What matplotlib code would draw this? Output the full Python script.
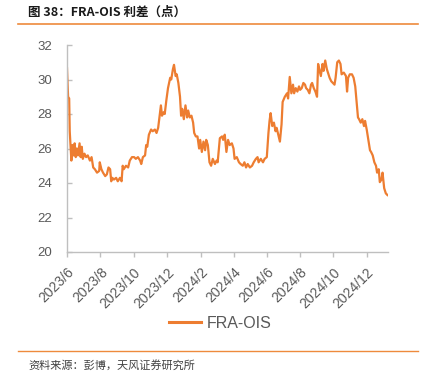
import matplotlib
matplotlib.use("Agg")
import matplotlib.pyplot as plt
from matplotlib.lines import Line2D
import pandas as pd

plt.rcParams['font.family'] = ['Liberation Sans', 'Noto Sans CJK SC', 'DejaVu Sans']

title = "图 38：FRA-OIS 利差（点）"
source = "资料来源：彭博，天风证券研究所"
series_name = "FRA-OIS"

dates = [
    "2023-06-01", "2023-06-03", "2023-06-05", "2023-06-06", "2023-06-09", "2023-06-11", "2023-06-13",
    "2023-06-15", "2023-06-17", "2023-06-19", "2023-06-21", "2023-06-24", "2023-06-26", "2023-06-28",
    "2023-06-30", "2023-07-03", "2023-07-06", "2023-07-09", "2023-07-13", "2023-07-16", "2023-07-19",
    "2023-07-22", "2023-07-26", "2023-07-30", "2023-07-31", "2023-08-03", "2023-08-06", "2023-08-10",
    "2023-08-13", "2023-08-16", "2023-08-19", "2023-08-21", "2023-08-23", "2023-08-26", "2023-08-30",
    "2023-09-02", "2023-09-06", "2023-09-09", "2023-09-11", "2023-09-13", "2023-09-17", "2023-09-21",
    "2023-09-24", "2023-09-28", "2023-10-02", "2023-10-05", "2023-10-09", "2023-10-13", "2023-10-15",
    "2023-10-18", "2023-10-22", "2023-10-24", "2023-10-26", "2023-10-29", "2023-11-02", "2023-11-05",
    "2023-11-09", "2023-11-12", "2023-11-15", "2023-11-18", "2023-11-20", "2023-11-22", "2023-11-25",
    "2023-11-27", "2023-11-30", "2023-12-03", "2023-12-07", "2023-12-09", "2023-12-12", "2023-12-14",
    "2023-12-17", "2023-12-19", "2023-12-22", "2023-12-25", "2023-12-27", "2023-12-29", "2024-01-01",
    "2024-01-04", "2024-01-07", "2024-01-09", "2024-01-12", "2024-01-15", "2024-01-18", "2024-01-20",
    "2024-01-23", "2024-01-26", "2024-01-29", "2024-01-31", "2024-02-03", "2024-02-06", "2024-02-09",
    "2024-02-11", "2024-02-14", "2024-02-17", "2024-02-20", "2024-02-23", "2024-02-27", "2024-03-01",
    "2024-03-03", "2024-03-07", "2024-03-11", "2024-03-13", "2024-03-16", "2024-03-19", "2024-03-22",
    "2024-03-25", "2024-03-29", "2024-04-01", "2024-04-03", "2024-04-07", "2024-04-11", "2024-04-14",
    "2024-04-18", "2024-04-21", "2024-04-24", "2024-04-27", "2024-05-01", "2024-05-05", "2024-05-08",
    "2024-05-12", "2024-05-15", "2024-05-17", "2024-05-21", "2024-05-25", "2024-05-28", "2024-06-01",
    "2024-06-04", "2024-06-06", "2024-06-08", "2024-06-11", "2024-06-14", "2024-06-17", "2024-06-19",
    "2024-06-22", "2024-06-25", "2024-06-28", "2024-06-30", "2024-07-04", "2024-07-08", "2024-07-10",
    "2024-07-13", "2024-07-16", "2024-07-19", "2024-07-21", "2024-07-24", "2024-07-27", "2024-07-30",
    "2024-08-01", "2024-08-04", "2024-08-07", "2024-08-10", "2024-08-12", "2024-08-15", "2024-08-18",
    "2024-08-21", "2024-08-23", "2024-08-26", "2024-08-29", "2024-09-01", "2024-09-03", "2024-09-05",
    "2024-09-08", "2024-09-11", "2024-09-13", "2024-09-16", "2024-09-19", "2024-09-22", "2024-09-24",
    "2024-09-27", "2024-09-30", "2024-10-03", "2024-10-05", "2024-10-08", "2024-10-11", "2024-10-14",
    "2024-10-16", "2024-10-20", "2024-10-24", "2024-10-26", "2024-10-28", "2024-10-31", "2024-11-04",
    "2024-11-07", "2024-11-10", "2024-11-13", "2024-11-15", "2024-11-17", "2024-11-20", "2024-11-23",
    "2024-11-26", "2024-11-28", "2024-12-01", "2024-12-04", "2024-12-07", "2024-12-09", "2024-12-12",
    "2024-12-15", "2024-12-18", "2024-12-20", "2024-12-23", "2024-12-25", "2024-12-28", "2024-12-30",
    "2025-01-02", "2025-01-05", "2025-01-08",
]

values = [
    30.65, 29.0, 28.9, 27.0, 25.3, 26.2, 25.6,
    26.3, 25.5, 26.0, 25.6, 26.3, 25.5, 26.1,
    25.4, 25.7, 25.5, 25.6, 25.3, 25.5, 24.9,
    24.8, 24.6, 24.7, 25.2, 24.8, 24.6, 24.4,
    24.5, 24.9, 24.8, 24.1, 24.3, 24.2, 24.3,
    24.1, 24.3, 24.1, 25.0, 24.8, 25.0, 24.9,
    25.3, 25.5, 25.5, 25.4, 25.5, 25.3, 25.1,
    25.5, 25.6, 26.2, 26.1, 26.8, 27.1, 27.0,
    27.1, 26.9, 27.2, 28.0, 28.5, 27.9, 28.1,
    28.0, 28.8, 29.5, 30.1, 30.0, 30.6, 30.85,
    30.2, 30.3, 29.8, 29.0, 27.9, 28.3, 27.7,
    28.5, 27.8, 28.2, 27.8, 27.9, 27.5, 26.9,
    26.7, 26.7, 26.0, 26.5, 25.8, 26.4, 25.9,
    26.5, 26.2, 25.2, 25.0, 25.4, 25.1, 25.3,
    25.2, 26.6, 26.7, 26.5, 26.8, 25.8, 26.5,
    26.2, 26.3, 26.0, 25.4, 25.5, 25.2, 25.1,
    25.0, 25.2, 24.9, 25.1, 24.9, 25.0, 25.2,
    25.4, 25.5, 25.2, 25.4, 25.2, 25.4, 25.5,
    26.9, 27.6, 28.05, 27.3, 27.5, 27.0, 27.2,
    26.8, 26.4, 27.4, 28.7, 29.0, 29.2, 28.9,
    30.15, 29.2, 29.7, 29.2, 29.5, 29.3, 29.6,
    29.4, 29.5, 29.8, 29.7, 29.5, 29.4, 29.2,
    29.7, 29.8, 29.5, 29.3, 29.0, 30.9, 30.6,
    30.2, 30.9, 30.5, 31.1, 30.6, 30.3, 30.1,
    29.9, 29.8, 29.7, 30.1, 31.0, 31.1, 30.9,
    30.3, 30.4, 30.2, 29.3, 30.1, 30.3, 30.3,
    30.1, 29.6, 28.5, 27.8, 27.7, 27.5, 27.7,
    27.3, 27.6, 27.1, 26.5, 25.9, 25.8, 25.6,
    25.2, 25.0, 24.6, 24.8, 24.05, 24.2, 24.6,
    23.7, 23.4, 23.3,
]

tick_dates = ["2023-06-01", "2023-08-01", "2023-10-01", "2023-12-01", "2024-02-01",
              "2024-04-01", "2024-06-01", "2024-08-01", "2024-10-01", "2024-12-01"]
tick_labels = ["2023/6", "2023/8", "2023/10", "2023/12", "2024/2",
               "2024/4", "2024/6", "2024/8", "2024/10", "2024/12"]
y_ticks = [20, 22, 24, 26, 28, 30, 32]

ORANGE = "#ED7D31"
AXIS = "#BFBFBF"
TXT = "#595959"

W, H = 425, 383
fig = plt.figure(figsize=(W / 100, H / 100), dpi=100)
ax = fig.add_axes([67 / W, 1 - 252 / H, (388 - 67) / W, (252 - 45) / H])

x = pd.to_datetime(dates)
ax.plot(x, values, color=ORANGE, lw=1.6, solid_joinstyle='round')

ax.set_xlim(pd.Timestamp("2023-06-01"), pd.Timestamp("2025-01-09"))
ax.set_ylim(20, 32)
ax.set_yticks(y_ticks)
ax.set_yticklabels([str(v) for v in y_ticks])
ax.set_xticks(pd.to_datetime(tick_dates))
ax.set_xticklabels(tick_labels, rotation=45, ha='right', rotation_mode='anchor')

for s in ['top', 'right']:
    ax.spines[s].set_visible(False)
for s in ['left', 'bottom']:
    ax.spines[s].set_color(AXIS)
    ax.spines[s].set_linewidth(1.0)

ax.tick_params(axis='y', direction='in', length=3.5, width=1.0, color=AXIS,
               labelcolor=TXT, labelsize=9.5, pad=11)
ax.tick_params(axis='x', direction='out', length=3.5, width=1.0, color=AXIS,
               labelcolor=TXT, labelsize=10, pad=6)

handle = Line2D([], [], color=ORANGE, lw=2.2)
fig.legend([handle], [series_name], loc='center', bbox_to_anchor=(220 / W, 1 - 323 / H),
           frameon=False, fontsize=11.5, handlelength=2.0, handletextpad=0.35,
           labelcolor=TXT)

fig.text(28 / W, 1 - 12.5 / H, title, fontsize=9, fontweight='bold', color="#1A1A1A",
         va='center', ha='left', family=['Noto Sans CJK SC', 'DejaVu Sans'])
fig.add_artist(Line2D([18 / W, 418 / W], [1 - 23.5 / H, 1 - 23.5 / H], color="#EE8A3C", lw=1.2))
fig.add_artist(Line2D([18 / W, 418 / W], [1 - 351 / H, 1 - 351 / H], color="#EE8A3C", lw=1.0))
fig.text(28 / W, 1 - 366 / H, source, fontsize=8, color="#404040", va='center', ha='left',
         family=['Noto Sans CJK SC', 'DejaVu Sans'])

fig.savefig("out.png", dpi=100, facecolor='white')
